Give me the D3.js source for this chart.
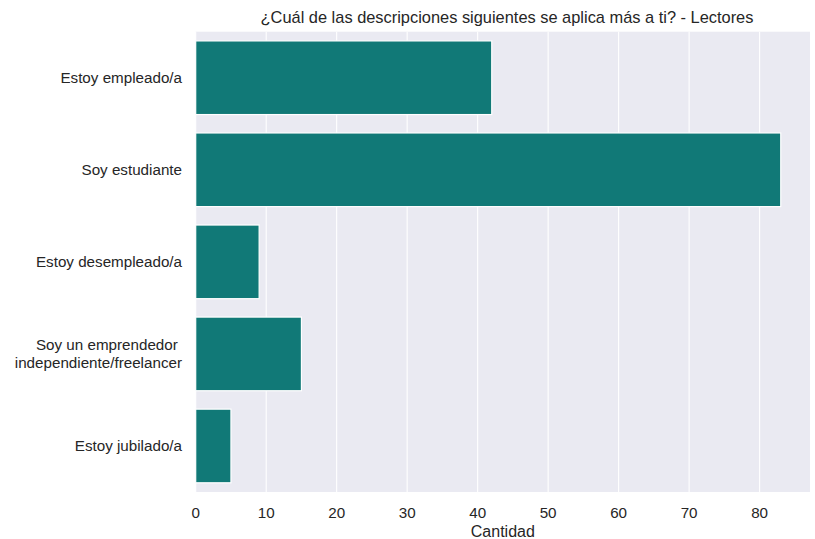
<!DOCTYPE html>
<html><head><meta charset="utf-8">
<script src="https://cdn.jsdelivr.net/npm/d3@7"></script>
<style>body{margin:0;background:#fff}svg{display:block}text{font-family:"Liberation Sans",Arial,sans-serif;fill:#262626}</style>
</head><body><svg id="c" width="815" height="539"></svg>
<script>
const categories = ["Estoy empleado/a","Soy estudiante","Estoy desempleado/a","Soy un emprendedor \nindependiente/freelancer","Estoy jubilado/a"];
const values = [42,83,9,15,5];
const xTicks = [0,10,20,30,40,50,60,70,80];
const title = "¿Cuál de las descripciones siguientes se aplica más a ti? - Lectores";
const xLabel = "Cantidad";

const svg = d3.select("#c");
const L=195.7, R=810, T=31.7, B=492;
const x = d3.scaleLinear().domain([0, d3.max(values)*1.05]).range([L,R]);
const y = d3.scaleBand().domain(categories).range([T,B]).paddingInner(0.2).paddingOuter(0.1);

svg.append("rect").attr("x",L).attr("y",T).attr("width",R-L).attr("height",B-T).attr("fill","#eaeaf2");
svg.append("g").selectAll("line").data(xTicks).join("line")
  .attr("x1",d=>x(d)).attr("x2",d=>x(d)).attr("y1",T).attr("y2",B)
  .attr("stroke","#fff").attr("stroke-width",1.1);

svg.append("g").selectAll("rect").data(values).join("rect")
  .attr("x",x(0)).attr("y",(d,i)=>y(categories[i]))
  .attr("width",d=>x(d)-x(0)).attr("height",y.bandwidth())
  .attr("fill","#117977").attr("stroke","#fff").attr("stroke-width",1.2);

svg.append("g").selectAll("text").data(xTicks).join("text")
  .attr("x",d=>x(d)).attr("y",517.5).attr("text-anchor","middle").attr("font-size","15.2px").text(d=>d);

categories.forEach(c=>{
  const lines=c.split("\n");
  const cy=y(c)+y.bandwidth()/2;
  const lh=17.5;
  lines.forEach((ln,j)=>{
    svg.append("text").attr("x",182).attr("y",cy+(j-(lines.length-1)/2)*lh).attr("dy","0.35em")
      .attr("text-anchor","end").attr("font-size","15.2px").attr("xml:space","preserve").text(ln);
  });
});

svg.append("text").attr("x",507).attr("y",23).attr("text-anchor","middle").attr("font-size","16.4px").text(title);
svg.append("text").attr("x",(L+R)/2).attr("y",536.5).attr("text-anchor","middle").attr("font-size","16px").text(xLabel);
</script></body></html>
